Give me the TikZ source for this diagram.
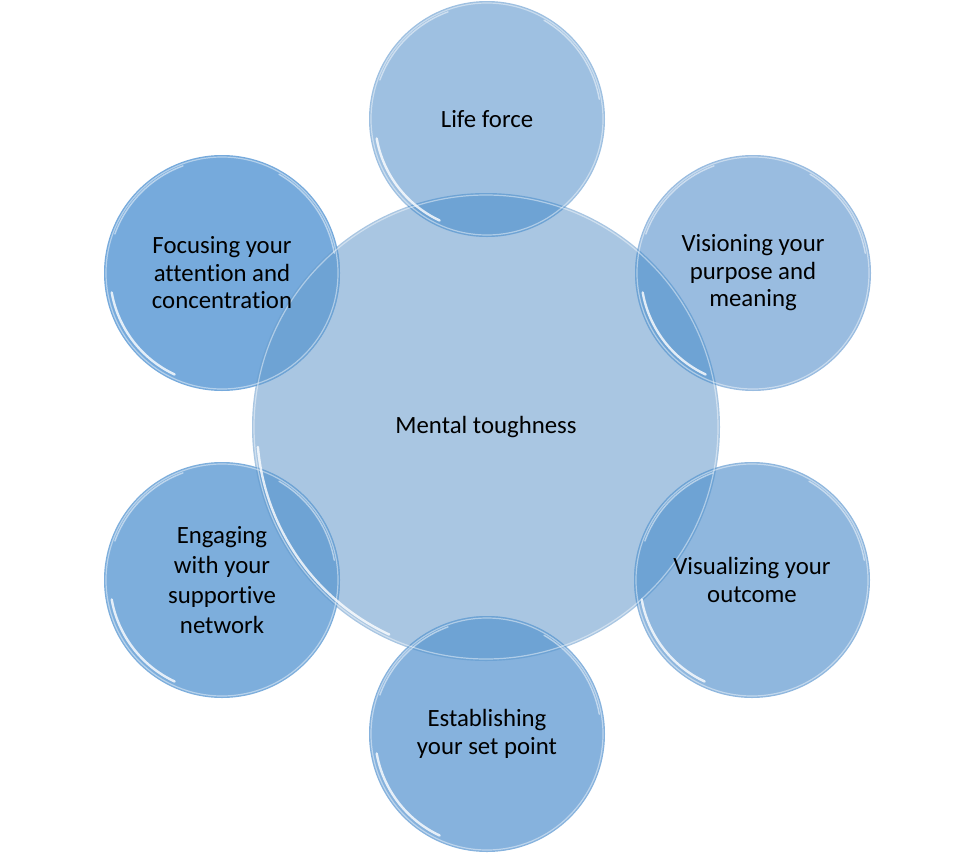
\documentclass[tikz,border=0pt]{standalone}
\usepackage{fontspec}
\setmainfont[Ligatures=NoCommon]{Carlito}
\definecolor{hubc}{HTML}{A9C6E2}
\definecolor{lifec}{HTML}{9EC0E1}
\definecolor{visionc}{HTML}{99BCE0}
\definecolor{visualc}{HTML}{8FB7DE}
\definecolor{estabc}{HTML}{86B2DD}
\definecolor{engagec}{HTML}{7DAEDC}
\definecolor{focusc}{HTML}{76AADC}
\definecolor{overlapc}{HTML}{6EA3D4}
\begin{document}
\begin{tikzpicture}[x=1pt,y=-1pt,
    bubble/.style={circle,minimum size=236pt,inner sep=0pt,align=center,
      font=\fontsize{24.8}{27.5}\selectfont},
    rim/.style={draw=white,opacity=0.45,line width=1.2pt},
    gloss/.style={draw=white,opacity=0.8,line width=2.4pt,line cap=round}]
  \useasboundingbox (0,0) rectangle (975,854);
  \coordinate (c0) at (486,427);
  \coordinate (c1) at (487,119);
  \coordinate (c2) at (753,273);
  \coordinate (c3) at (752,580);
  \coordinate (c4) at (487,734);
  \coordinate (c5) at (222,580);
  \coordinate (c6) at (222,273);
  % hub and bubbles
  \fill[hubc] (c0) circle (234);
  \fill[lifec] (c1) circle (118);
  \fill[visionc] (c2) circle (118);
  \fill[visualc] (c3) circle (118);
  \fill[estabc] (c4) circle (118);
  \fill[engagec] (c5) circle (118);
  \fill[focusc] (c6) circle (118);
  % darker where a bubble lies on the hub
  \foreach \i in {1,...,6} {
    \begin{scope}
      \clip (c0) circle (234);
      \fill[overlapc] (c\i) circle (118);
    \end{scope}
  }
  % glassy rims
  \draw[rim] (c0) circle (232);
  \draw[gloss] (c0) ++(115:229) arc (115:175:229);
  \foreach \i in {1,...,6} {
    \draw[rim] (c\i) circle (116);
    \draw[gloss] (c\i) ++(115:112) arc (115:170:112);
    \draw[gloss,opacity=0.5,line width=1.4pt] (c\i) ++(200:114) arc (200:250:114);
    \draw[gloss,opacity=0.5,line width=1.4pt] (c\i) ++(300:114) arc (300:350:114);
  }
  % labels
  \node[bubble,minimum size=468pt] (hub) at (c0) {Mental toughness};
  \node[bubble] (life) at (c1) {Life force};
  \node[bubble] (vision) at (c2) {Visioning your\\purpose and\\meaning};
  \node[bubble] (visual) at (c3) {Visualizing your\\outcome};
  \node[bubble] (estab) at (c4) {Establishing\\your set point};
  \node[bubble,font=\fontsize{24.8}{30}\selectfont] (engage) at (c5) {Engaging\\with your\\supportive\\network};
  \node[bubble] (focus) at (c6) {Focusing your\\attention and\\concentration};
\end{tikzpicture}
\end{document}
